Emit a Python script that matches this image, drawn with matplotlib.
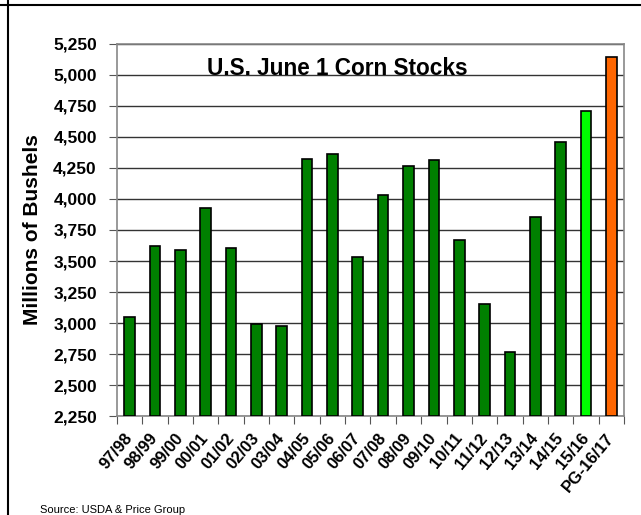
import numpy as np
from matplotlib import pyplot as plt
from matplotlib.lines import Line2D

# June 1 corn stocks, millions of bushels
years = ['97/98', '98/99', '99/00', '00/01', '01/02', '02/03', '03/04', '04/05',
         '05/06', '06/07', '07/08', '08/09', '09/10', '10/11', '11/12', '12/13',
         '13/14', '14/15', '15/16', 'PG-16/17']
stocks = [3045, 3623, 3590, 3925, 3602, 2990, 2976, 4323,
          4363, 3532, 4035, 4266, 4315, 3672, 3151, 2766,
          3855, 4457, 4712, 5148]
bar_colors = ['#008000'] * 18 + ['#00FF00', '#FF6600']

plt.rcParams['font.family'] = ['Liberation Sans', 'DejaVu Sans']

fig = plt.figure(figsize=(6.41, 5.15), dpi=100)
ax = fig.add_axes([0.1825, 0.1922, 0.791, 0.7224])

x = np.arange(len(years))
base = 2250
ax.bar(x, np.array(stocks) - base, bottom=base, width=0.42,
       color=bar_colors, edgecolor='black', linewidth=1.2, zorder=3)

ax.set_ylim(2250, 5250)
ax.set_xlim(-0.5, len(years) - 0.5)
yt = np.arange(2250, 5251, 250)
ax.set_yticks(yt)
ax.set_yticklabels([f'{v:,}' for v in yt], fontsize=12.5, fontweight='bold')
ax.yaxis.grid(True, color='#333333', linewidth=1.0, zorder=0)

# ticks between the bars, labels centred under them
ax.set_xticks(np.arange(-0.5, len(years)), minor=False)
ax.set_xticklabels([])
ax.set_xticks(x, minor=True)
ax.set_xticklabels(years, minor=True, rotation=50, ha='right', va='center',
                   rotation_mode='anchor', fontsize=12, fontweight='bold')
ax.tick_params(axis='x', which='major', length=6, color='#555555', direction='out')
ax.tick_params(axis='x', which='minor', length=0, pad=14)
ax.tick_params(axis='y', length=6, color='#555555', direction='out', pad=8.5)

for side in ['top', 'right', 'left', 'bottom']:
    ax.spines[side].set_color('#888888')
    ax.spines[side].set_linewidth(1.2)

ax.set_ylabel('Millions of Bushels', fontsize=15, fontweight='bold', labelpad=8)
ax.text(0.434, 0.935, 'U.S. June 1 Corn Stocks', transform=ax.transAxes,
        ha='center', va='center', fontsize=16.3, fontweight='bold', zorder=5)

fig.text(40 / 641, 1 - 510 / 515, 'Source: USDA & Price Group', fontsize=8,
         ha='left', va='center')

# border lines of the page the chart was cut from
fig.add_artist(Line2D([0, 1], [1 - 5 / 515, 1 - 5 / 515], color='black', linewidth=1.5))
fig.add_artist(Line2D([8 / 641, 8 / 641], [0, 1], color='black', linewidth=1.5))

fig.savefig('out.png', dpi=100)
